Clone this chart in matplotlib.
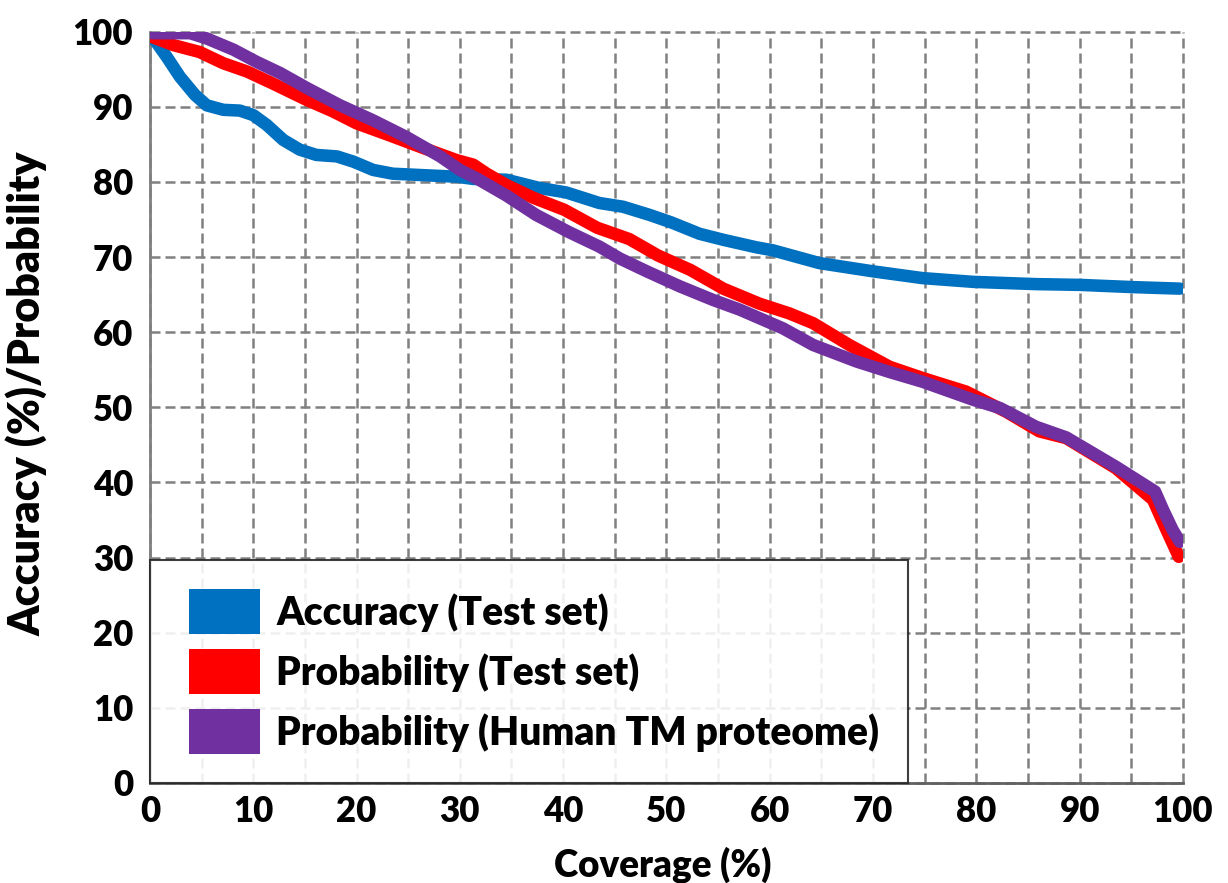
import matplotlib
matplotlib.use("Agg")
import matplotlib.pyplot as plt
from matplotlib.patches import Patch, Rectangle
from matplotlib.legend_handler import HandlerPatch

# ---- data ----
acc_x = [0.2, 1.6, 2.9, 4.35, 5.5, 7.1, 8.7, 10.0, 11.3, 12.9, 14.5, 16.1, 18.1, 19.7,
         21.6, 23.5, 26.5, 29.7, 31.3, 34.5, 37.7, 40.3, 43.5, 45.8, 48.4, 50.5, 53.2,
         55.5, 58.7, 60.3, 64.8, 70.0, 74.8, 79.7, 85.8, 90.0, 95.2, 99.7]
acc_y = [99.4, 96.7, 94.0, 91.6, 90.2, 89.6, 89.5, 88.9, 87.6, 85.6, 84.3, 83.6, 83.4, 82.7,
         81.6, 81.1, 80.9, 80.7, 80.4, 80.3, 79.2, 78.6, 77.2, 76.7, 75.6, 74.6, 73.1,
         72.3, 71.3, 70.9, 69.2, 68.1, 67.2, 66.7, 66.4, 66.3, 66.0, 65.8]

prt_x = [0.2, 2.3, 4.8, 7.1, 9.4, 11.9, 15.2, 17.7, 20.0, 23.2, 26.5, 29.7, 31.3, 32.6,
         34.5, 37.1, 40.1, 43.3, 46.4, 49.2, 52.3, 55.5, 59.0, 61.9, 64.2, 67.7, 71.6,
         74.8, 79.0, 82.9, 86.1, 88.7, 93.5, 97.1, 98.4, 99.6]
prt_y = [99.3, 98.2, 97.3, 95.8, 94.7, 93.1, 90.9, 89.4, 87.8, 86.2, 84.5, 82.9, 82.3, 81.1,
         79.6, 77.9, 76.3, 73.9, 72.4, 70.2, 68.3, 65.8, 63.8, 62.5, 61.2, 58.3, 55.4,
         53.9, 52.1, 49.4, 46.8, 45.9, 41.9, 37.7, 33.7, 30.1]

phu_x = [0.2, 3.9, 5.5, 8.1, 10.3, 12.6, 15.2, 18.4, 21.6, 24.8, 28.1, 30.0, 31.6, 34.5,
         37.4, 40.6, 43.5, 45.5, 48.1, 51.3, 54.5, 57.1, 61.3, 64.2, 68.4, 71.6, 74.8,
         79.7, 82.3, 85.8, 88.7, 93.5, 97.3, 98.1, 99.0, 99.7]
phu_y = [99.8, 99.8, 99.1, 97.6, 96.0, 94.5, 92.5, 90.2, 88.2, 86.0, 83.4, 81.6, 80.5, 78.2,
         75.6, 73.3, 71.4, 69.8, 68.1, 66.1, 64.3, 63.0, 60.5, 58.3, 56.1, 54.7, 53.4,
         51.0, 49.9, 47.4, 46.0, 42.1, 38.8, 36.3, 33.7, 32.1]

labels = ["Accuracy (Test set)", "Probability (Test set)", "Probability (Human TM proteome)"]
colors = ["#0070C0", "#FF0000", "#7030A0"]
xticks = list(range(0, 101, 5))
xticklabels = [str(v) if v % 10 == 0 else "" for v in xticks]
yticks = [0, 10, 20, 30, 40, 50, 60, 70, 80, 90, 100]

plt.rcParams['font.family'] = ['Lato', 'DejaVu Sans']
plt.rcParams['font.weight'] = 'bold'

fig = plt.figure(figsize=(12.28, 8.83), dpi=100)
ax = fig.add_axes([0.1221, 0.1133, 0.9633 - 0.1221, 0.9641 - 0.1133])

grid_c = "#808080"
for x, y, c in zip([acc_x, prt_x, phu_x], [acc_y, prt_y, phu_y], colors):
    ax.plot(x, y, color=c, lw=9, solid_capstyle='round', solid_joinstyle='round', zorder=3)

ax.set_xlim(0, 100)
ax.set_ylim(0, 100)
ax.set_xticks(xticks)
ax.set_xticklabels(xticklabels)
ax.set_yticks(yticks)
ax.tick_params(axis='both', which='both', length=0, labelsize=25)
ax.tick_params(axis='x', pad=9)
ax.tick_params(axis='y', pad=12)
for lbl in ax.get_xticklabels() + ax.get_yticklabels():
    lbl.set_fontweight('heavy')

ax.grid(True, color=grid_c, lw=1.8, linestyle=(0, (4, 2)), zorder=1)
ax.set_axisbelow(True)
for gl in ax.get_xgridlines() + ax.get_ygridlines():
    gl.set_clip_on(False)

for s in ['top', 'right']:
    ax.spines[s].set_visible(False)
ax.spines['left'].set_color(grid_c)
ax.spines['bottom'].set_color("#606060")
ax.spines['left'].set_linewidth(2)
ax.spines['bottom'].set_linewidth(2)

ax.set_xlabel("Coverage (%)", fontsize=26.5, fontweight='heavy')
ax.xaxis.set_label_coords(0.496, -0.084)
ax.set_ylabel("Accuracy (%)/Probability", fontsize=31, fontweight='heavy')
ax.yaxis.set_label_coords(-0.099, 0.518)


class OffsetPatchHandler(HandlerPatch):
    def __init__(self, frac=0.18):
        super().__init__()
        self.frac = frac

    def create_artists(self, legend, orig_handle, xdescent, ydescent, width, height,
                       fontsize, trans):
        off = width * self.frac
        p = Rectangle((-xdescent + off, -ydescent), width - off, height,
                      facecolor=orig_handle.get_facecolor(), edgecolor='none',
                      transform=trans)
        return [p]


handles = [Patch(facecolor=c, edgecolor='none') for c in colors]
leg = ax.legend(handles, labels, loc='lower left',
                bbox_to_anchor=(0, 0, (908 - 150) / 1033, 0.3), mode='expand',
                borderaxespad=0, prop={'weight': 'heavy', 'size': 28},
                handler_map={Patch: OffsetPatchHandler(0.12)},
                handlelength=2.08, handleheight=1.38, handletextpad=0.42,
                labelspacing=0.4, borderpad=0.75, fancybox=False,
                framealpha=0.88, edgecolor='#222222')
leg.get_frame().set_linewidth(1.5)
leg.set_zorder(5)

fig.savefig("out.png", dpi=100)
